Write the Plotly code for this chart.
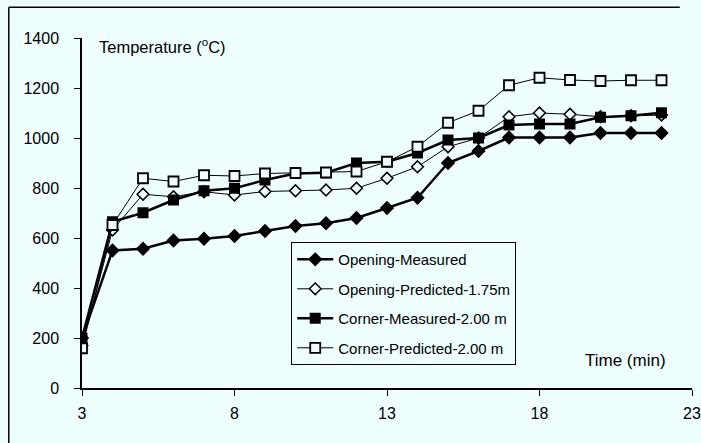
import plotly.graph_objects as go

time_min = [3, 4, 5, 6, 7, 8, 9, 10, 11, 12, 13, 14, 15, 16, 17, 18, 19, 20, 21, 22]
opening_measured = [200, 550, 557, 590, 597, 608, 628, 648, 659, 680, 720, 761, 900, 948, 1002, 1002, 1002, 1020, 1020, 1020]
opening_predicted = [170, 632, 775, 765, 785, 772, 786, 789, 792, 799, 839, 885, 965, 1000, 1085, 1100, 1095, 1085, 1089, 1092]
corner_measured = [199, 665, 701, 752, 789, 799, 832, 858, 861, 900, 905, 940, 992, 1000, 1052, 1056, 1056, 1083, 1089, 1101]
corner_predicted = [159, 652, 839, 826, 851, 848, 858, 860, 862, 866, 905, 965, 1061, 1109, 1211, 1241, 1232, 1228, 1231, 1231]

series_names = ["Opening-Measured", "Opening-Predicted-1.75m", "Corner-Measured-2.00 m", "Corner-Predicted-2.00 m"]
x_ticks = [3, 8, 13, 18, 23]
y_ticks = [0, 200, 400, 600, 800, 1000, 1200, 1400]

BG = "#EFFFFF"
FONT = "Liberation Sans, Arial, sans-serif"

fig = go.Figure()

styles = [
    dict(line=dict(color="black", width=2.5), marker=dict(symbol="diamond", size=11, color="black")),
    dict(line=dict(color="black", width=1), marker=dict(symbol="diamond", size=9, color=BG, line=dict(color="black", width=1.5))),
    dict(line=dict(color="black", width=2.5), marker=dict(symbol="square", size=11, color="black")),
    dict(line=dict(color="black", width=1), marker=dict(symbol="square", size=10, color=BG, line=dict(color="black", width=1.8))),
]
data = [opening_measured, opening_predicted, corner_measured, corner_predicted]

for i, (name, vals, st) in enumerate(zip(series_names, data, styles)):
    fig.add_trace(go.Scatter(x=time_min, y=vals, mode="lines+markers", name=name,
                             legendgroup=f"g{i}", **st))

fig.update_layout(
    width=701, height=443,
    margin=dict(l=82, r=9, t=38, b=55, autoexpand=False),
    paper_bgcolor=BG, plot_bgcolor=BG,
    font=dict(family=FONT, color="black"),
    showlegend=True,
    legend=dict(x=0.343, y=0.417, xanchor="left", yanchor="top",
                bgcolor=BG, bordercolor="black", borderwidth=1,
                font=dict(size=15, family=FONT), itemwidth=36,
                traceorder="grouped", tracegroupgap=7),
    xaxis=dict(range=[3, 23], tickvals=x_ticks, showgrid=False, zeroline=False,
               showline=True, linecolor="black", linewidth=1.5,
               ticks="outside", ticklen=6, tickcolor="black", automargin=False,
               tickfont=dict(size=16, family=FONT), ticklabelstandoff=4),
    yaxis=dict(range=[0, 1400], tickvals=y_ticks, showgrid=False, zeroline=False,
               showline=True, linecolor="black", linewidth=1.5,
               ticks="outside", ticklen=6, tickcolor="black", automargin=False,
               tickfont=dict(size=16, family=FONT), ticklabelstandoff=12),
    annotations=[
        dict(text="Temperature (<sup>o</sup>C)", xref="paper", yref="paper", x=0.024, y=0.978,
             xanchor="left", yanchor="middle", showarrow=False, font=dict(size=16.5, family=FONT)),
        dict(text="Time (min)", xref="paper", yref="paper", x=0.822, y=0.08,
             xanchor="left", yanchor="middle", showarrow=False, font=dict(size=17, family=FONT)),
    ],
    shapes=[
        dict(type="line", xref="paper", yref="paper", x0=-0.12, x1=-0.12, y0=-0.16, y1=1.088,
             line=dict(color="black", width=1.5)),
        dict(type="line", xref="paper", yref="paper", x0=-0.12, x1=0.98, y0=1.088, y1=1.088,
             line=dict(color="black", width=1.5)),
    ],
)

fig.write_html("out.html", config={"displayModeBar": False},
               post_script="document.body.style.margin='0';document.body.style.overflow='hidden';document.body.style.background='" + BG + "';")
